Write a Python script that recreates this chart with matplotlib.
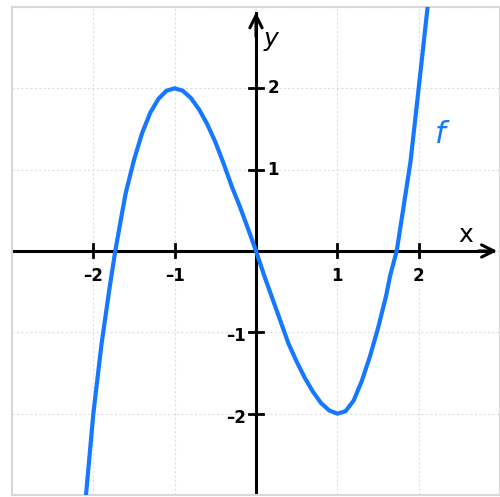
import numpy as np
import matplotlib.pyplot as plt

xs = [-2.09, -2.0, -1.9, -1.8, -1.73, -1.65, -1.6, -1.5, -1.4, -1.3, -1.2, -1.1, -1.0,
      -0.9, -0.8, -0.7, -0.6, -0.5, -0.4, -0.3, -0.2, -0.1, 0.0,
      0.1, 0.2, 0.3, 0.4, 0.5, 0.6, 0.7, 0.8, 0.9, 1.0,
      1.1, 1.2, 1.3, 1.4, 1.5, 1.6, 1.65, 1.73, 1.8, 1.9, 2.0, 2.11]
ys = [-3.0, -2.0, -1.15, -0.45, 0.0, 0.45, 0.72, 1.12, 1.45, 1.7, 1.87, 1.97, 2.0,
      1.97, 1.88, 1.74, 1.56, 1.34, 1.08, 0.8, 0.55, 0.28, 0.0,
      -0.3, -0.58, -0.86, -1.14, -1.36, -1.56, -1.73, -1.87, -1.96, -2.0,
      -1.97, -1.84, -1.6, -1.3, -0.95, -0.55, -0.3, 0.0, 0.45, 1.1, 2.0, 3.0]

xticks = [-2, -1, 1, 2]
yticks = [-2, -1, 1, 2]

azul = '#1677ff'

fig = plt.figure(figsize=(5, 4.97), dpi=100)
ax = fig.add_axes([0.024, 0.004, 0.976, 0.982])
ax.set_xlim(-3, 3)
ax.set_ylim(-3, 3)

# grade pontilhada
for v in range(-3, 4):
    ax.axvline(v, color='#dedede', lw=0.8, ls=(0, (2, 2)), zorder=0)
    ax.axhline(v, color='#dedede', lw=0.8, ls=(0, (2, 2)), zorder=0)

ax.set_xticks([])
ax.set_yticks([])
for s in ax.spines.values():
    s.set_color('#d8d8d8')
    s.set_linewidth(1.5)

# eixos com setas
ax.plot([-3, 2.92], [0, 0], color='black', lw=2.2, zorder=2)
ax.plot([0, 0], [-3, 2.92], color='black', lw=2.2, zorder=2)
ax.annotate('', xy=(3.0, 0), xytext=(2.7, 0),
            arrowprops=dict(arrowstyle='->', lw=2.2, color='black', mutation_scale=22))
ax.annotate('', xy=(0, 2.97), xytext=(0, 2.6),
            arrowprops=dict(arrowstyle='->', lw=2.2, color='black', mutation_scale=22))

for t in xticks:
    ax.plot([t, t], [-0.08, 0.08], color='black', lw=2, zorder=2)
    ax.text(t, -0.31, str(t).replace('-', '\u2013'), ha='center', va='center',
            fontsize=12, fontweight='bold')
for t in yticks:
    ax.plot([-0.08, 0.08], [t, t], color='black', lw=2, zorder=2)
    if t > 0:
        ax.text(0.14, t, str(t), ha='left', va='center', fontsize=12, fontweight='bold')
    else:
        ax.text(-0.12, t - 0.05, str(t).replace('-', '\u2013'), ha='right', va='center',
                fontsize=12, fontweight='bold')

ax.text(0.18, 2.6, 'y', fontsize=18, style='italic', ha='center', va='center')
ax.text(2.58, 0.2, 'x', fontsize=18, ha='center', va='center')
ax.text(2.27, 1.43, 'f', fontsize=22, style='italic', color=azul, ha='center', va='center')

ax.plot(xs, ys, color=azul, lw=3, solid_capstyle='round', solid_joinstyle='round', zorder=3)

fig.savefig('out.png', dpi=100)
